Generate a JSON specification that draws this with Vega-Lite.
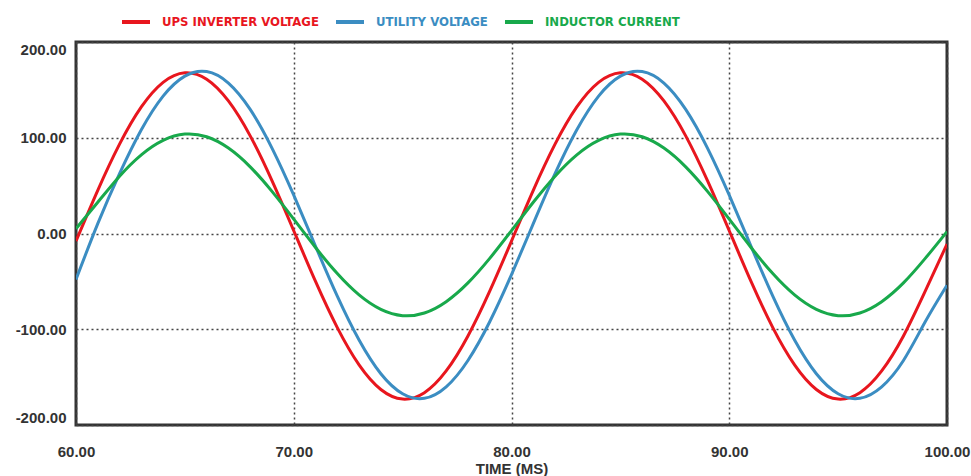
{
  "$schema": "https://vega.github.io/schema/vega-lite/v6.json",
  "width": 871,
  "height": 383,
  "autosize": "none",
  "padding": {"left": 76, "top": 42, "right": 24, "bottom": 51},
  "background": "white",
  "config": {
    "view": {"stroke": "#333333", "strokeWidth": 3},
    "axis": {
      "labelFont": "Liberation Sans",
      "labelFontWeight": "bold",
      "labelFontSize": 15,
      "labelColor": "#333333",
      "titleFont": "Liberation Sans",
      "titleFontWeight": "bold",
      "titleFontSize": 15,
      "titleColor": "#333333",
      "domain": false,
      "ticks": false,
      "grid": true,
      "gridColor": "#444444",
      "gridDash": [2, 3],
      "gridWidth": 1.5
    }
  },
  "data": {
    "values": [
      {"t": 60, "s": "UPS INVERTER VOLTAGE", "v": -7.9},
      {"t": 61, "s": "UPS INVERTER VOLTAGE", "v": 45.1},
      {"t": 62, "s": "UPS INVERTER VOLTAGE", "v": 93.3},
      {"t": 63, "s": "UPS INVERTER VOLTAGE", "v": 132.2},
      {"t": 64, "s": "UPS INVERTER VOLTAGE", "v": 157.9},
      {"t": 65, "s": "UPS INVERTER VOLTAGE", "v": 167.9},
      {"t": 66, "s": "UPS INVERTER VOLTAGE", "v": 161.2},
      {"t": 67, "s": "UPS INVERTER VOLTAGE", "v": 138.5},
      {"t": 68, "s": "UPS INVERTER VOLTAGE", "v": 102.0},
      {"t": 69, "s": "UPS INVERTER VOLTAGE", "v": 55.2},
      {"t": 70, "s": "UPS INVERTER VOLTAGE", "v": 2.9},
      {"t": 71, "s": "UPS INVERTER VOLTAGE", "v": -50.1},
      {"t": 72, "s": "UPS INVERTER VOLTAGE", "v": -98.3},
      {"t": 73, "s": "UPS INVERTER VOLTAGE", "v": -137.2},
      {"t": 74, "s": "UPS INVERTER VOLTAGE", "v": -162.9},
      {"t": 75, "s": "UPS INVERTER VOLTAGE", "v": -172.9},
      {"t": 76, "s": "UPS INVERTER VOLTAGE", "v": -166.2},
      {"t": 77, "s": "UPS INVERTER VOLTAGE", "v": -143.5},
      {"t": 78, "s": "UPS INVERTER VOLTAGE", "v": -107.0},
      {"t": 79, "s": "UPS INVERTER VOLTAGE", "v": -60.2},
      {"t": 80, "s": "UPS INVERTER VOLTAGE", "v": -7.9},
      {"t": 81, "s": "UPS INVERTER VOLTAGE", "v": 45.1},
      {"t": 82, "s": "UPS INVERTER VOLTAGE", "v": 93.3},
      {"t": 83, "s": "UPS INVERTER VOLTAGE", "v": 132.2},
      {"t": 84, "s": "UPS INVERTER VOLTAGE", "v": 157.9},
      {"t": 85, "s": "UPS INVERTER VOLTAGE", "v": 167.9},
      {"t": 86, "s": "UPS INVERTER VOLTAGE", "v": 161.2},
      {"t": 87, "s": "UPS INVERTER VOLTAGE", "v": 138.5},
      {"t": 88, "s": "UPS INVERTER VOLTAGE", "v": 102.0},
      {"t": 89, "s": "UPS INVERTER VOLTAGE", "v": 55.2},
      {"t": 90, "s": "UPS INVERTER VOLTAGE", "v": 2.9},
      {"t": 91, "s": "UPS INVERTER VOLTAGE", "v": -50.1},
      {"t": 92, "s": "UPS INVERTER VOLTAGE", "v": -98.3},
      {"t": 93, "s": "UPS INVERTER VOLTAGE", "v": -137.2},
      {"t": 94, "s": "UPS INVERTER VOLTAGE", "v": -162.9},
      {"t": 95, "s": "UPS INVERTER VOLTAGE", "v": -172.9},
      {"t": 96, "s": "UPS INVERTER VOLTAGE", "v": -166.2},
      {"t": 97, "s": "UPS INVERTER VOLTAGE", "v": -143.5},
      {"t": 98, "s": "UPS INVERTER VOLTAGE", "v": -107.0},
      {"t": 99, "s": "UPS INVERTER VOLTAGE", "v": -60.2},
      {"t": 100, "s": "UPS INVERTER VOLTAGE", "v": -11.0},
      {"t": 60, "s": "UTILITY VOLTAGE", "v": -48.0},
      {"t": 61, "s": "UTILITY VOLTAGE", "v": 10.3},
      {"t": 62, "s": "UTILITY VOLTAGE", "v": 62.5},
      {"t": 63, "s": "UTILITY VOLTAGE", "v": 108.3},
      {"t": 64, "s": "UTILITY VOLTAGE", "v": 143.5},
      {"t": 65, "s": "UTILITY VOLTAGE", "v": 164.4},
      {"t": 66, "s": "UTILITY VOLTAGE", "v": 169.1},
      {"t": 67, "s": "UTILITY VOLTAGE", "v": 157.1},
      {"t": 68, "s": "UTILITY VOLTAGE", "v": 129.6},
      {"t": 69, "s": "UTILITY VOLTAGE", "v": 89.2},
      {"t": 70, "s": "UTILITY VOLTAGE", "v": 40.0},
      {"t": 71, "s": "UTILITY VOLTAGE", "v": -13.3},
      {"t": 72, "s": "UTILITY VOLTAGE", "v": -65.5},
      {"t": 73, "s": "UTILITY VOLTAGE", "v": -111.3},
      {"t": 74, "s": "UTILITY VOLTAGE", "v": -146.5},
      {"t": 75, "s": "UTILITY VOLTAGE", "v": -167.4},
      {"t": 76, "s": "UTILITY VOLTAGE", "v": -172.1},
      {"t": 77, "s": "UTILITY VOLTAGE", "v": -160.1},
      {"t": 78, "s": "UTILITY VOLTAGE", "v": -132.6},
      {"t": 79, "s": "UTILITY VOLTAGE", "v": -92.2},
      {"t": 80, "s": "UTILITY VOLTAGE", "v": -43.0},
      {"t": 81, "s": "UTILITY VOLTAGE", "v": 10.3},
      {"t": 82, "s": "UTILITY VOLTAGE", "v": 62.5},
      {"t": 83, "s": "UTILITY VOLTAGE", "v": 108.3},
      {"t": 84, "s": "UTILITY VOLTAGE", "v": 143.5},
      {"t": 85, "s": "UTILITY VOLTAGE", "v": 164.4},
      {"t": 86, "s": "UTILITY VOLTAGE", "v": 169.1},
      {"t": 87, "s": "UTILITY VOLTAGE", "v": 157.1},
      {"t": 88, "s": "UTILITY VOLTAGE", "v": 129.6},
      {"t": 89, "s": "UTILITY VOLTAGE", "v": 89.2},
      {"t": 90, "s": "UTILITY VOLTAGE", "v": 40.0},
      {"t": 91, "s": "UTILITY VOLTAGE", "v": -13.3},
      {"t": 92, "s": "UTILITY VOLTAGE", "v": -65.5},
      {"t": 93, "s": "UTILITY VOLTAGE", "v": -111.3},
      {"t": 94, "s": "UTILITY VOLTAGE", "v": -146.5},
      {"t": 95, "s": "UTILITY VOLTAGE", "v": -167.4},
      {"t": 96, "s": "UTILITY VOLTAGE", "v": -172.1},
      {"t": 97, "s": "UTILITY VOLTAGE", "v": -160.1},
      {"t": 98, "s": "UTILITY VOLTAGE", "v": -132.6},
      {"t": 99, "s": "UTILITY VOLTAGE", "v": -92.2},
      {"t": 100, "s": "UTILITY VOLTAGE", "v": -54.0},
      {"t": 60, "s": "INDUCTOR CURRENT", "v": 5.0},
      {"t": 61, "s": "INDUCTOR CURRENT", "v": 32.6},
      {"t": 62, "s": "INDUCTOR CURRENT", "v": 59.9},
      {"t": 63, "s": "INDUCTOR CURRENT", "v": 82.2},
      {"t": 64, "s": "INDUCTOR CURRENT", "v": 97.3},
      {"t": 65, "s": "INDUCTOR CURRENT", "v": 103.8},
      {"t": 66, "s": "INDUCTOR CURRENT", "v": 101.0},
      {"t": 67, "s": "INDUCTOR CURRENT", "v": 89.2},
      {"t": 68, "s": "INDUCTOR CURRENT", "v": 69.6},
      {"t": 69, "s": "INDUCTOR CURRENT", "v": 44.0},
      {"t": 70, "s": "INDUCTOR CURRENT", "v": 15.0},
      {"t": 71, "s": "INDUCTOR CURRENT", "v": -14.6},
      {"t": 72, "s": "INDUCTOR CURRENT", "v": -41.9},
      {"t": 73, "s": "INDUCTOR CURRENT", "v": -64.2},
      {"t": 74, "s": "INDUCTOR CURRENT", "v": -79.3},
      {"t": 75, "s": "INDUCTOR CURRENT", "v": -85.8},
      {"t": 76, "s": "INDUCTOR CURRENT", "v": -83.0},
      {"t": 77, "s": "INDUCTOR CURRENT", "v": -71.2},
      {"t": 78, "s": "INDUCTOR CURRENT", "v": -51.6},
      {"t": 79, "s": "INDUCTOR CURRENT", "v": -26.0},
      {"t": 80, "s": "INDUCTOR CURRENT", "v": 3.0},
      {"t": 81, "s": "INDUCTOR CURRENT", "v": 32.6},
      {"t": 82, "s": "INDUCTOR CURRENT", "v": 59.9},
      {"t": 83, "s": "INDUCTOR CURRENT", "v": 82.2},
      {"t": 84, "s": "INDUCTOR CURRENT", "v": 97.3},
      {"t": 85, "s": "INDUCTOR CURRENT", "v": 103.8},
      {"t": 86, "s": "INDUCTOR CURRENT", "v": 101.0},
      {"t": 87, "s": "INDUCTOR CURRENT", "v": 89.2},
      {"t": 88, "s": "INDUCTOR CURRENT", "v": 69.6},
      {"t": 89, "s": "INDUCTOR CURRENT", "v": 44.0},
      {"t": 90, "s": "INDUCTOR CURRENT", "v": 15.0},
      {"t": 91, "s": "INDUCTOR CURRENT", "v": -14.6},
      {"t": 92, "s": "INDUCTOR CURRENT", "v": -41.9},
      {"t": 93, "s": "INDUCTOR CURRENT", "v": -64.2},
      {"t": 94, "s": "INDUCTOR CURRENT", "v": -79.3},
      {"t": 95, "s": "INDUCTOR CURRENT", "v": -85.8},
      {"t": 96, "s": "INDUCTOR CURRENT", "v": -83.0},
      {"t": 97, "s": "INDUCTOR CURRENT", "v": -71.2},
      {"t": 98, "s": "INDUCTOR CURRENT", "v": -51.6},
      {"t": 99, "s": "INDUCTOR CURRENT", "v": -26.0},
      {"t": 100, "s": "INDUCTOR CURRENT", "v": 2.0}
    ]
  },
  "mark": {"type": "line", "interpolate": "natural", "strokeWidth": 3, "clip": true},
  "encoding": {
    "x": {
      "field": "t",
      "type": "quantitative",
      "scale": {"domain": [60, 100], "nice": false, "zero": false},
      "axis": {
        "values": [60, 70, 80, 90, 100],
        "format": ".2f",
        "labelFlush": false,
        "labelPadding": 19,
        "title": "TIME (MS)",
        "titlePadding": 2
      }
    },
    "y": {
      "field": "v",
      "type": "quantitative",
      "scale": {"domain": [-200, 200], "nice": false},
      "axis": {
        "values": [-200, -100, 0, 100, 200],
        "labelExpr": "(datum.value < 0 ? '-' : '') + format(abs(datum.value), '.2f')",
        "labelFlush": true,
        "labelPadding": 10,
        "title": null
      }
    },
    "color": {
      "field": "s",
      "type": "nominal",
      "sort": ["UPS INVERTER VOLTAGE", "UTILITY VOLTAGE", "INDUCTOR CURRENT"],
      "scale": {
        "domain": ["UPS INVERTER VOLTAGE", "UTILITY VOLTAGE", "INDUCTOR CURRENT"],
        "range": ["#e8161e", "#3b8dc2", "#18a94b"]
      },
      "legend": {
        "title": null,
        "orient": "none",
        "legendX": 44,
        "legendY": -36,
        "direction": "horizontal",
        "padding": 0,
        "symbolType": "stroke",
        "symbolSize": 784,
        "symbolStrokeWidth": 4,
        "labelFont": "DejaVu Sans Condensed, Liberation Sans, sans-serif",
        "labelFontWeight": "bold",
        "labelFontSize": 13,
        "labelLimit": 400,
        "labelOffset": 10,
        "columnPadding": 9,
        "encode": {
          "labels": {"update": {"fill": {"signal": "scale('color', datum.value)"}}}
        }
      }
    }
  }
}
